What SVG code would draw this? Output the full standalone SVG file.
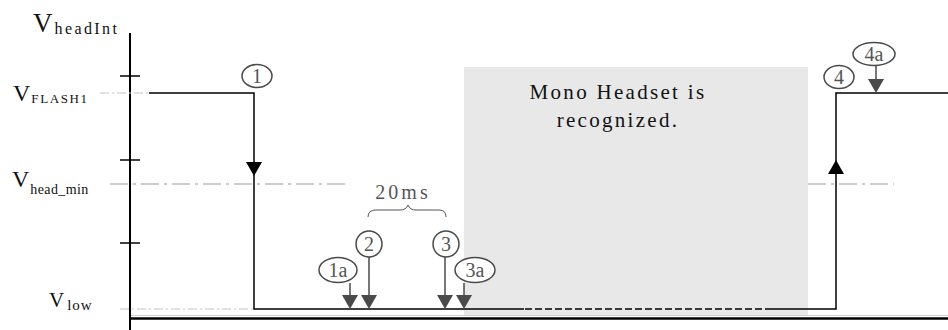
<svg xmlns="http://www.w3.org/2000/svg" width="948" height="330" viewBox="0 0 948 330" font-family="'Liberation Serif', 'Times New Roman', 'DejaVu Serif', serif">
<style>
text{font-family:"Liberation Serif","Times New Roman","DejaVu Serif",serif}
.lbl{fill:#111}
.sig{stroke:#000;stroke-width:1.5;fill:none}
.guide{stroke:#bdbdbd;stroke-width:1.5;fill:none;stroke-dasharray:18 5 3 5}
.guidet{stroke:#c4c4c4;stroke-width:1;fill:none;stroke-dasharray:9 3 2 3}
.ev{fill:#fff;stroke:#4a4a4a;stroke-width:1.5}
.evt{fill:#555;font-size:20px;text-anchor:middle}
.garr{stroke:#4a4a4a;stroke-width:1.5;fill:none}
.ghead{fill:#4a4a4a}
</style>
<rect id="recognized-zone" x="464" y="67" width="344" height="249" fill="#e8e8e8"/>
<g id="axes">
<line x1="130" y1="33" x2="130" y2="330" stroke="#000" stroke-width="2"/>
<line x1="130" y1="318.5" x2="948" y2="318.5" stroke="#000" stroke-width="2.5"/>
<line x1="131" y1="315.5" x2="948" y2="315.5" stroke="#cfcfcf" stroke-width="1"/>
<line x1="120" y1="76" x2="140" y2="76" stroke="#000" stroke-width="1.5"/>
<line x1="120" y1="160" x2="140" y2="160" stroke="#000" stroke-width="1.5"/>
<line x1="120" y1="243" x2="140" y2="243" stroke="#000" stroke-width="1.5"/>
</g>
<g id="guides">
<line class="guidet" x1="100" y1="93" x2="148" y2="93"/>
<line class="guide" x1="110" y1="184" x2="348" y2="184"/>
<line class="guide" x1="808" y1="184" x2="894" y2="184"/>
<line class="guidet" x1="120" y1="309" x2="254" y2="309"/>
</g>
<g id="axis-labels">
<text class="lbl" x="33" y="32" font-size="27">V<tspan font-size="16" dx="2" dy="2" letter-spacing="2.4">headInt</tspan></text>
<text class="lbl" x="13" y="101" font-size="24">V<tspan font-size="13" dx="1" dy="2" letter-spacing="1.6">FLASH1</tspan></text>
<text class="lbl" x="12" y="187" font-size="24">V<tspan font-size="14" dx="1" dy="7" letter-spacing="0.4">head_min</tspan></text>
<text class="lbl" x="49" y="307" font-size="21">V<tspan font-size="15" dx="3" dy="3" letter-spacing="1">low</tspan></text>
</g>
<g id="signal">
<polyline class="sig" points="149,93 254,93 254,309 524,309"/>
<line class="sig" x1="525" y1="309" x2="770" y2="309" stroke-dasharray="7 3"/>
<polyline class="sig" points="770,309 836,309 836,93 948,93"/>
<path d="M246,162 L262,162 L254,176 Z" fill="#000"/>
<path d="M828,174 L844,174 L836,160 Z" fill="#000"/>
</g>
<g id="box-text">
<text x="618" y="99" font-size="21" letter-spacing="2.3" text-anchor="middle" fill="#111">Mono Headset is</text>
<text x="618" y="127" font-size="21" letter-spacing="2.3" text-anchor="middle" fill="#111">recognized.</text>
</g>
<g id="interval">
<text x="403" y="199" font-size="20" letter-spacing="3" text-anchor="middle" fill="#555">20ms</text>
<path d="M368,217 Q368,210 376,210 L400,210 Q406,210 408,205 Q410,210 416,210 L439,210 Q446,210 446,217" fill="none" stroke="#555" stroke-width="1"/>
</g>
<g id="connectors">
<line class="garr" x1="350" y1="283" x2="350" y2="296"/>
<path class="ghead" d="M342,295 L358,295 L350,309 Z"/>
<line class="garr" x1="369" y1="257" x2="369" y2="296"/>
<path class="ghead" d="M361,295 L377,295 L369,309 Z"/>
<line class="garr" x1="445" y1="257" x2="445" y2="296"/>
<path class="ghead" d="M437,295 L453,295 L445,309 Z"/>
<line class="garr" x1="464" y1="283" x2="464" y2="296"/>
<path class="ghead" d="M456,295 L472,295 L464,309 Z"/>
<line class="garr" x1="876" y1="65" x2="876" y2="80"/>
<path class="ghead" d="M868,79 L884,79 L876,93 Z"/>
</g>
<g id="ev1"><ellipse class="ev" cx="257" cy="76" rx="15" ry="11.5"/><text class="evt" x="257" y="83">1</text></g>
<g id="ev1a"><ellipse class="ev" cx="338" cy="270" rx="19" ry="12.5"/><text class="evt" x="338" y="277">1a</text></g>
<g id="ev2"><ellipse class="ev" cx="369" cy="244" rx="13" ry="13"/><text class="evt" x="369" y="251">2</text></g>
<g id="ev3"><ellipse class="ev" cx="446" cy="244" rx="13" ry="13"/><text class="evt" x="446" y="251">3</text></g>
<g id="ev3a"><ellipse class="ev" cx="475" cy="270" rx="20" ry="12.5"/><text class="evt" x="475" y="277">3a</text></g>
<g id="ev4"><ellipse class="ev" cx="839" cy="77" rx="15" ry="11.5"/><text class="evt" x="839" y="84">4</text></g>
<g id="ev4a"><ellipse class="ev" cx="874" cy="54" rx="21" ry="11.5"/><text class="evt" x="874" y="61">4a</text></g>
</svg>
